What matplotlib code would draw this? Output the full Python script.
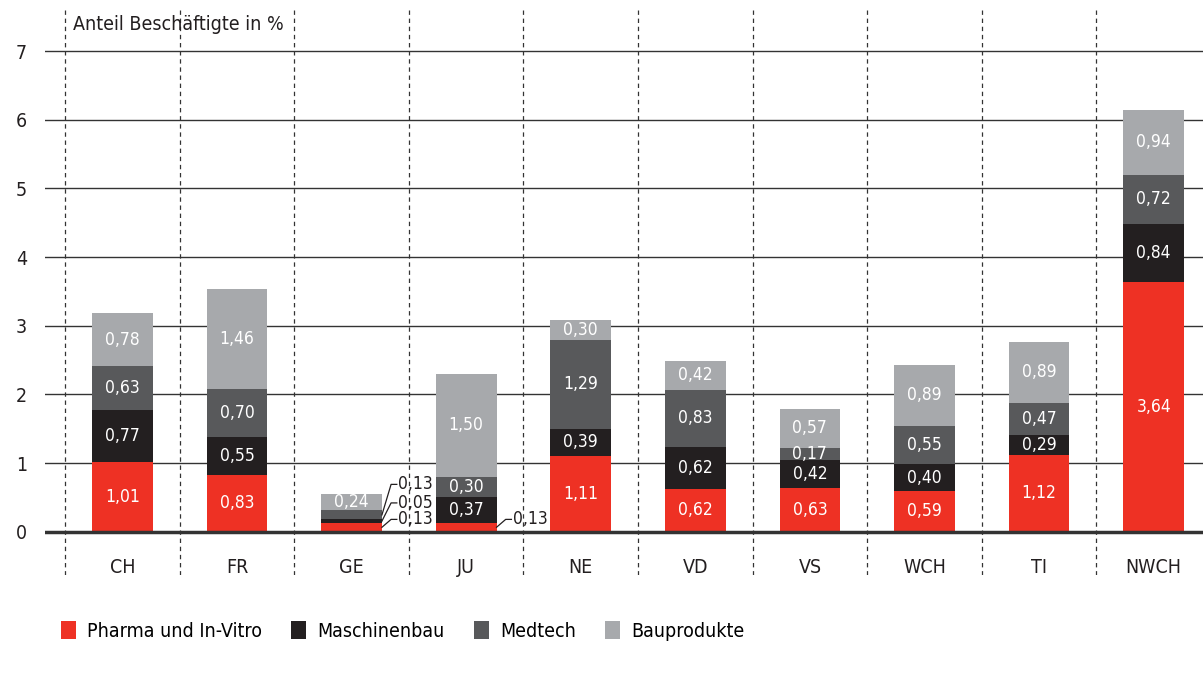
import matplotlib
matplotlib.use("Agg")
from matplotlib import pyplot as plt
from matplotlib.patches import Patch
import numpy as np

# data
regions = ["CH", "FR", "GE", "JU", "NE", "VD", "VS", "WCH", "TI", "NWCH"]
pharma = [1.01, 0.83, 0.13, 0.13, 1.11, 0.62, 0.63, 0.59, 1.12, 3.64]
maschinen = [0.77, 0.55, 0.05, 0.37, 0.39, 0.62, 0.42, 0.40, 0.29, 0.84]
medtech = [0.63, 0.70, 0.13, 0.30, 1.29, 0.83, 0.17, 0.55, 0.47, 0.72]
bau = [0.78, 1.46, 0.24, 1.50, 0.30, 0.42, 0.57, 0.89, 0.89, 0.94]
series_names = ["Pharma und In-Vitro", "Maschinenbau", "Medtech", "Bauprodukte"]
colors = ["#ee3124", "#231f20", "#58595b", "#a7a9ac"]

plt.rcParams["font.family"] = ["DejaVu Sans"]
plt.rcParams["font.stretch"] = "condensed"
txt = "#231f20"

fig = plt.figure(figsize=(12.03, 6.75), dpi=100)
ax = fig.add_axes([45 / 1203, 100 / 675, 1 - 45 / 1203, 565 / 675])
ax.set_xlim(-0.675, 9.43)
ax.set_ylim(-0.63, 7.6)
for s in ax.spines.values():
    s.set_visible(False)
ax.set_xticks([])
ax.set_yticks(range(8))
ax.set_yticklabels([str(i) for i in range(8)], fontsize=14, color=txt)
ax.tick_params(axis="y", length=0, pad=13)

# grid
for yv in range(1, 8):
    ax.axhline(yv, color="#333333", lw=1, zorder=1)
ax.axhline(0, color="#333333", lw=2.5, zorder=4)
for i in range(len(regions)):
    ax.plot([i - 0.5, i - 0.5], [-0.63, 7.6], color="#333333", lw=0.9,
            ls=(0, (3.5, 3)), zorder=1)

x = np.arange(len(regions))
w = 0.53
bottom = np.zeros(len(regions))
stack = [pharma, maschinen, medtech, bau]
small = {("GE", 0), ("GE", 1), ("GE", 2), ("JU", 0)}
for k, vals in enumerate(stack):
    vals = np.array(vals)
    ax.bar(x, vals, w, bottom=bottom, color=colors[k], zorder=3)
    for i, v in enumerate(vals):
        lab = f"{v:.2f}".replace(".", ",")
        if (regions[i], k) in small:
            continue
        ax.text(x[i], bottom[i] + v / 2, lab, ha="center", va="center",
                color="white", fontsize=12.5, zorder=5)
    bottom = bottom + vals

# leader labels for the tiny segments
def leader(i, k, ty):
    b = sum(stack[j][i] for j in range(k))
    v = stack[k][i]
    x0 = x[i] + w / 2
    y0 = b + v / 2
    ax.plot([x0, x0 + 0.08, x0 + 0.13], [y0, ty, ty], color=txt,
            lw=0.9, zorder=5)
    lab = f"{v:.2f}".replace(".", ",")
    ax.text(x0 + 0.14, ty, lab, ha="left", va="center", fontsize=12.5,
            color=txt, zorder=5)

gi = regions.index("GE")
leader(gi, 0, 0.18)
leader(gi, 1, 0.42)
leader(gi, 2, 0.69)
leader(regions.index("JU"), 0, 0.18)

# category labels
for i, r in enumerate(regions):
    ax.text(i, -0.52, r, ha="center", va="center", fontsize=14, color=txt)

fig.text(73 / 1203, 1 - 25 / 675, "Anteil Beschäftigte in %", fontsize=14,
         color=txt, va="center", ha="left")

handles = [Patch(facecolor=c, edgecolor="none") for c in colors]
fig.legend(handles, series_names, loc="center left",
           bbox_to_anchor=(43 / 1203, 1 - 631 / 675), ncol=4, frameon=False,
           fontsize=14, handlelength=0.8, handleheight=1.0, handletextpad=0.55,
           columnspacing=1.5)

fig.savefig("out.png", dpi=100)
